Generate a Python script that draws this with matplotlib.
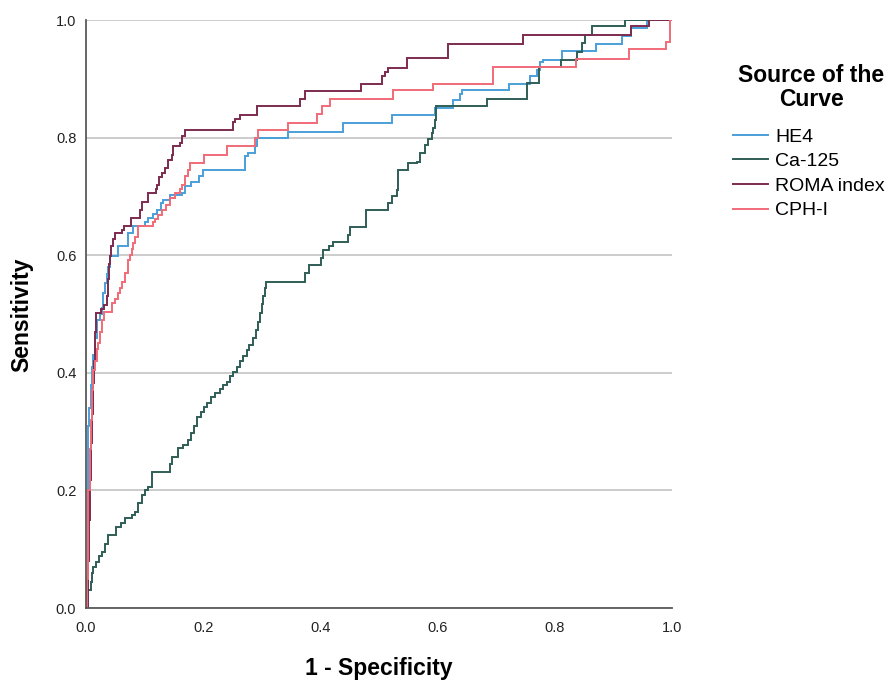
import matplotlib
matplotlib.use("Agg")
import matplotlib.pyplot as plt

plt.rcParams['font.family'] = ['Liberation Sans', 'DejaVu Sans']

series_names = ["HE4", "Ca-125", "ROMA index", "CPH-I"]
series_colors = ["#4a9fd8", "#2f5e57", "#7c2b4f", "#f06b78"]

# ROC step points (1 - specificity, sensitivity): the curve runs flat to the next
# point's x and then climbs to its y.
he4_fpr = [0, 0.003, 0.005, 0.008, 0.010, 0.012, 0.015, 0.018, 0.024, 0.027, 0.029, 0.032, 0.035, 0.038, 0.041, 0.055, 0.072, 0.080, 0.100, 0.106, 0.115, 0.121, 0.128, 0.131, 0.143, 0.163, 0.169, 0.180, 0.192, 0.200, 0.271, 0.277, 0.288, 0.291, 0.345, 0.439, 0.522, 0.596, 0.627, 0.638, 0.641, 0.721, 0.758, 0.769, 0.775, 0.780, 0.813, 0.870, 0.914, 0.930, 0.957, 1.0]
he4_tpr = [0, 0.31, 0.34, 0.38, 0.41, 0.43, 0.46, 0.49, 0.50, 0.51, 0.535, 0.552, 0.568, 0.58, 0.598, 0.615, 0.637, 0.649, 0.656, 0.663, 0.670, 0.677, 0.688, 0.694, 0.702, 0.706, 0.717, 0.725, 0.735, 0.745, 0.768, 0.774, 0.785, 0.800, 0.810, 0.824, 0.838, 0.850, 0.864, 0.874, 0.881, 0.892, 0.904, 0.915, 0.928, 0.932, 0.948, 0.960, 0.972, 0.986, 1.0, 1.0]

ca125_fpr = [0, 0.001, 0.008, 0.010, 0.012, 0.017, 0.022, 0.027, 0.032, 0.038, 0.052, 0.060, 0.067, 0.078, 0.084, 0.089, 0.095, 0.101, 0.106, 0.112, 0.143, 0.146, 0.157, 0.165, 0.174, 0.180, 0.185, 0.189, 0.196, 0.201, 0.206, 0.213, 0.220, 0.228, 0.234, 0.240, 0.246, 0.251, 0.257, 0.262, 0.268, 0.274, 0.279, 0.285, 0.290, 0.294, 0.297, 0.300, 0.302, 0.305, 0.308, 0.374, 0.380, 0.401, 0.404, 0.415, 0.422, 0.447, 0.450, 0.478, 0.515, 0.522, 0.530, 0.532, 0.549, 0.564, 0.570, 0.578, 0.584, 0.590, 0.593, 0.596, 0.598, 0.684, 0.752, 0.773, 0.810, 0.838, 0.846, 0.852, 0.863, 0.920, 1.0]
ca125_tpr = [0, 0.031, 0.045, 0.060, 0.070, 0.078, 0.088, 0.096, 0.108, 0.124, 0.138, 0.145, 0.153, 0.158, 0.164, 0.178, 0.192, 0.200, 0.206, 0.232, 0.245, 0.257, 0.272, 0.278, 0.286, 0.298, 0.310, 0.325, 0.333, 0.341, 0.349, 0.358, 0.366, 0.372, 0.379, 0.385, 0.394, 0.402, 0.410, 0.420, 0.429, 0.439, 0.448, 0.460, 0.473, 0.487, 0.502, 0.517, 0.530, 0.544, 0.555, 0.569, 0.583, 0.595, 0.609, 0.615, 0.623, 0.635, 0.648, 0.677, 0.688, 0.700, 0.711, 0.745, 0.756, 0.759, 0.773, 0.787, 0.797, 0.807, 0.816, 0.830, 0.853, 0.866, 0.893, 0.920, 0.932, 0.945, 0.961, 0.974, 0.989, 1.0, 1.0]

roma_fpr = [0, 0.003, 0.005, 0.007, 0.009, 0.010, 0.012, 0.014, 0.015, 0.016, 0.017, 0.026, 0.030, 0.035, 0.037, 0.039, 0.041, 0.043, 0.046, 0.049, 0.062, 0.064, 0.077, 0.092, 0.095, 0.106, 0.119, 0.121, 0.125, 0.130, 0.135, 0.140, 0.146, 0.149, 0.160, 0.163, 0.169, 0.251, 0.255, 0.263, 0.291, 0.365, 0.374, 0.470, 0.505, 0.510, 0.516, 0.548, 0.618, 0.746, 0.930, 0.960, 1.0]
roma_tpr = [0, 0.08, 0.15, 0.218, 0.28, 0.33, 0.382, 0.42, 0.447, 0.47, 0.501, 0.508, 0.515, 0.53, 0.56, 0.585, 0.598, 0.615, 0.627, 0.637, 0.643, 0.649, 0.663, 0.677, 0.691, 0.705, 0.712, 0.719, 0.733, 0.740, 0.748, 0.762, 0.771, 0.785, 0.790, 0.802, 0.813, 0.826, 0.832, 0.838, 0.853, 0.866, 0.880, 0.892, 0.905, 0.912, 0.918, 0.935, 0.960, 0.974, 0.989, 1.0, 1.0]

cph_fpr = [0, 0.002, 0.003, 0.004, 0.006, 0.008, 0.010, 0.012, 0.015, 0.018, 0.021, 0.024, 0.027, 0.030, 0.044, 0.050, 0.055, 0.058, 0.061, 0.066, 0.072, 0.075, 0.078, 0.081, 0.084, 0.089, 0.115, 0.118, 0.123, 0.129, 0.137, 0.143, 0.152, 0.160, 0.163, 0.169, 0.174, 0.177, 0.201, 0.240, 0.288, 0.294, 0.345, 0.394, 0.402, 0.416, 0.524, 0.593, 0.694, 0.836, 0.926, 0.989, 0.997, 1.0]
cph_tpr = [0, 0.05, 0.12, 0.20, 0.27, 0.32, 0.37, 0.405, 0.42, 0.44, 0.45, 0.47, 0.49, 0.504, 0.518, 0.525, 0.535, 0.545, 0.555, 0.57, 0.592, 0.60, 0.61, 0.62, 0.631, 0.649, 0.656, 0.662, 0.668, 0.677, 0.685, 0.697, 0.705, 0.713, 0.719, 0.735, 0.745, 0.756, 0.770, 0.785, 0.800, 0.813, 0.824, 0.840, 0.853, 0.866, 0.881, 0.892, 0.920, 0.933, 0.950, 0.962, 1.0, 1.0]

x_ticks = [0.0, 0.2, 0.4, 0.6, 0.8, 1.0]
y_ticks = [0.0, 0.2, 0.4, 0.6, 0.8, 1.0]

fig = plt.figure(figsize=(8.89, 6.81), dpi=100)
ax = fig.add_axes([86/889, 73/681, 586/889, 588/681])

curves = [(he4_fpr, he4_tpr), (ca125_fpr, ca125_tpr), (roma_fpr, roma_tpr), (cph_fpr, cph_tpr)]
for (fx, ty), name, col in zip(curves, series_names, series_colors):
    ax.plot(fx, ty, color=col, lw=1.4, label=name, drawstyle="steps-post",
            solid_joinstyle="miter")

ax.set_xlim(0, 1)
ax.set_ylim(0, 1)
ax.set_xticks(x_ticks)
ax.set_yticks(y_ticks)
ax.set_xticklabels([f"{v:.1f}" for v in x_ticks])
ax.set_yticklabels([f"{v:.1f}" for v in y_ticks])
ax.yaxis.grid(True, color="#c4c4c4", lw=1.2)
ax.set_axisbelow(True)
for s in ["top", "right"]:
    ax.spines[s].set_visible(False)
for s in ["left", "bottom"]:
    ax.spines[s].set_color("#5a5a5a")
    ax.spines[s].set_linewidth(1.3)
ax.tick_params(length=0, labelsize=10.5, colors="#222222")
ax.tick_params(axis="x", pad=9)
ax.tick_params(axis="y", pad=7)

fig.text(379/889, 1 - 668/681, "1 - Specificity", fontsize=16.5, fontweight="bold",
         ha="center", va="center")
fig.text(22/889, 1 - 315/681, "Sensitivity", fontsize=16.5, fontweight="bold",
         ha="center", va="center", rotation=90)

# legend title
fig.text(811/889, 1 - 76/681, "Source of the", fontsize=16.5, fontweight="bold",
         ha="center", va="center")
fig.text(811/889, 1 - 100/681, "Curve", fontsize=16.5, fontweight="bold",
         ha="center", va="center")

leg = ax.legend(loc="upper left", bbox_to_anchor=(733/889, 1 - 128/681),
                bbox_transform=fig.transFigure, frameon=False, fontsize=14,
                handlelength=1.8, handletextpad=0.36, labelspacing=0.36,
                borderaxespad=0, borderpad=0)

fig.savefig("out.png", dpi=100)
